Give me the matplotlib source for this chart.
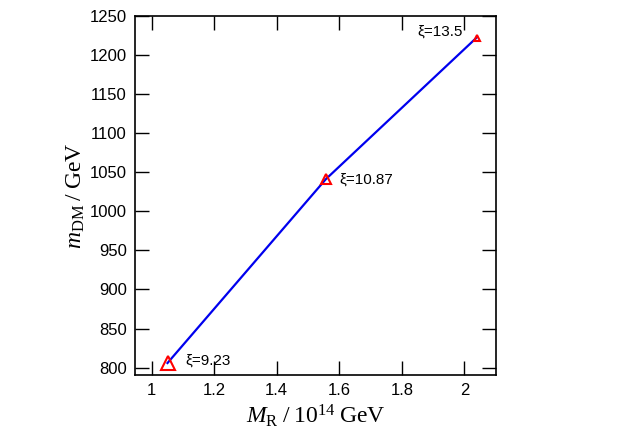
import numpy as np
from matplotlib import pyplot as plt

plt.rcParams['mathtext.fontset'] = 'custom'
plt.rcParams['mathtext.rm'] = 'Liberation Serif'
plt.rcParams['mathtext.it'] = 'Liberation Serif:italic'

# data
M_R = [1.051, 1.557, 2.039]        # 10^14 GeV
m_DM = [806.0, 1041.0, 1222.0]     # GeV
xi_labels = ['ξ=9.23', 'ξ=10.87', 'ξ=13.5']
marker_sizes = [10, 7, 5]

fig = plt.figure(figsize=(6.22, 4.36), dpi=100)
ax = fig.add_axes([0.217, 0.140, 0.580, 0.824])

ax.plot(M_R, m_DM, color='#0000ee', lw=1.6, zorder=2)
for x, y, s in zip(M_R, m_DM, marker_sizes):
    ax.plot(x, y, marker='^', ms=s, mfc='none', mec='red', mew=1.5, zorder=3)

ax.text(M_R[0] + 0.058, m_DM[0] + 3, xi_labels[0], fontsize=11, family='Liberation Sans', va='center')
ax.text(M_R[1] + 0.043, m_DM[1] - 1, xi_labels[1], fontsize=11, family='Liberation Sans', va='center')
ax.text(M_R[2] - 0.044, m_DM[2] + 7, xi_labels[2], fontsize=11, family='Liberation Sans', va='center', ha='right')

ax.set_xlim(0.947, 2.10)
ax.set_ylim(790.7, 1250)
ax.set_xticks([1, 1.2, 1.4, 1.6, 1.8, 2])
ax.set_xticklabels(['1', '1.2', '1.4', '1.6', '1.8', '2'])
ax.set_yticks(np.arange(800, 1251, 50))

ax.tick_params(direction='in', top=True, right=True, length=10, width=1,
               labelsize=12, pad=6)
for lab in ax.get_xticklabels() + ax.get_yticklabels():
    lab.set_family('Liberation Sans')
for sp in ax.spines.values():
    sp.set_linewidth(1.2)

ax.set_xlabel(r'$M_{\rm R}\;/\;10^{14}\;{\rm GeV}$', fontsize=17, family='Liberation Serif', labelpad=3)
ax.set_ylabel(r'$m_{\rm DM}\;/\;{\rm GeV}$', fontsize=17, family='Liberation Serif', labelpad=2)

plt.savefig('out.png', dpi=100)
